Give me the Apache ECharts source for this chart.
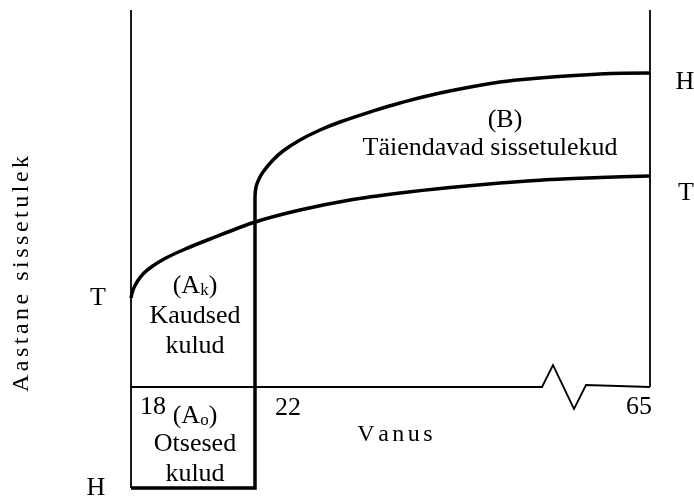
<!DOCTYPE html>
<html>
<head>
<meta charset="utf-8">
<script src="https://cdn.jsdelivr.net/npm/echarts@6/dist/echarts.min.js"></script>
<style>
  html, body { margin: 0; padding: 0; background: #fff; }
  #chart { width: 694px; height: 497px; }
</style>
</head>
<body>
<div id="chart"></div>
<script>
// schematic units: x = distance from the age-18 line, y = income above the age axis
const leftFrame = [[0, -101], [0, 377]];
const rightFrame = [[519, 0], [519, 377]];
const ageAxis = [[0, 0], [411, 0], [422, 22], [443, -22], [455, 2], [519, 0]];

// T: no further study, earning from 18
const tCurve = [[0, 89], [2, 97], [6, 105], [12, 113], [21, 120.5], [34, 128.5], [52, 137],
  [79, 148], [124, 165], [169, 177], [219, 187], [269, 194], [319, 199.5], [369, 204],
  [419, 207.5], [469, 209.5], [519, 211]];

// H: study costs 18..22, then higher income
const hStep = [[0, -101], [124, -101], [124, 190]];
const hCurve = [[124, 190], [125, 200], [128, 208], [132, 215], [142, 227], [152, 236],
  [169, 247], [189, 257], [209, 265], [239, 275], [269, 284], [309, 294], [369, 305],
  [409, 309], [469, 313], [519, 314]];

const font = '"Liberation Serif", "Times New Roman", serif';
const black = '#000';

const chart = echarts.init(document.getElementById('chart'));

function line(data, width, smooth) {
  return {
    type: 'line',
    data: data,
    smooth: smooth || false,
    symbol: 'none',
    clip: false,
    lineStyle: { color: black, width: width, cap: 'butt', join: 'miter' },
    z: 2
  };
}

function txt(x, y, text, size) {
  return {
    type: 'text',
    x: x,
    y: y,
    style: {
      text: text,
      font: size + 'px ' + font,
      fill: black,
      align: 'center',
      verticalAlign: 'middle'
    }
  };
}

// letter-spaced text: a small-font space between letters
function spaced(str) {
  return str.split('').map(c => c === ' ' ? '{w| }{g| }' : c + '{g| }').join('').replace(/\{g\| \}$/, '');
}

function spacedText(x, y, str, size, rotation) {
  return {
    type: 'text', x: x, y: y, rotation: rotation || 0,
    style: {
      text: spaced(str), font: size + 'px ' + font, fill: black,
      align: 'center', verticalAlign: 'middle',
      rich: {
        g: { font: '14px ' + font },
        w: { font: size + 'px ' + font }
      }
    }
  };
}

function subText(x, y, base, sub) {
  return {
    type: 'text', x: x, y: y,
    style: {
      text: '(' + base + '{s|' + sub + '})', font: '26px ' + font, fill: black,
      align: 'center', verticalAlign: 'middle',
      rich: { s: { font: '17px ' + font, fill: black, padding: [10, 0, 0, 0] } }
    }
  };
}

chart.setOption({
  animation: false,
  backgroundColor: '#fff',
  grid: { left: 131, top: 10, width: 519, height: 478 },
  xAxis: { type: 'value', min: 0, max: 519, show: false },
  yAxis: { type: 'value', min: -101, max: 377, show: false },
  series: [
    line(leftFrame, 1.8),
    line(rightFrame, 1.8),
    line(ageAxis, 1.8),
    line(tCurve, 3.5, 0.3),
    line(hStep, 3.5),
    line(hCurve, 3.5, 0.4)
  ],
  graphic: [
    txt(685, 82, 'H', 26),
    txt(686, 193, 'T', 26),
    txt(98, 298, 'T', 26),
    txt(96, 488, 'H', 26),
    subText(195, 286, 'A', 'k'),
    txt(195, 316, 'Kaudsed', 26),
    txt(195, 346, 'kulud', 26),
    txt(153, 407, '18', 26),
    subText(195, 416, 'A', 'o'),
    txt(195, 444, 'Otsesed', 26),
    txt(195, 474, 'kulud', 26),
    txt(288, 408, '22', 26),
    txt(639, 407, '65', 26),
    txt(505, 120, '(B)', 26),
    txt(490, 148, 'Täiendavad sissetulekud', 26),
    spacedText(395, 435, 'Vanus', 24),
    spacedText(22, 274, 'Aastane sissetulek', 24, Math.PI / 2)
  ]
});
</script>
</body>
</html>
